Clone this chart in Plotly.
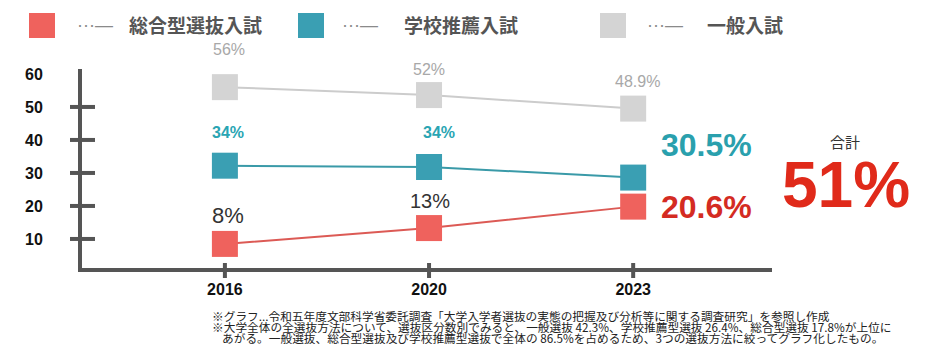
import plotly.graph_objects as go

# ---- data ----
years = ["2016", "2020", "2023"]
sogo = [8.5, 13.3, 19.8]        # 総合型選抜入試 (plotted position)
suisen = [32.2, 31.8, 28.6]     # 学校推薦入試
ippan = [56.0, 53.6, 49.5]      # 一般入試
sogo_labels = ["8%", "13%", "20.6%"]
suisen_labels = ["34%", "34%", "30.5%"]
ippan_labels = ["56%", "52%", "48.9%"]
series_names = ["総合型選抜入試", "学校推薦入試", "一般入試"]
y_ticks = [10, 20, 30, 40, 50, 60]
total_label = "51%"
total_title = "合計"
notes = [
    "※グラフ...令和五年度文部科学省委託調査「大学入学者選抜の実態の把握及び分析等に関する調査研究」を参照し作成",
    "※大学全体の全選抜方法について、選抜区分数別でみると、一般選抜 42.3%、学校推薦型選抜 26.4%、総合型選抜 17.8%が上位に",
    "あがる。一般選抜、総合型選抜及び学校推薦型選抜で全体の 86.5%を占めるため、3つの選抜方法に絞ってグラフ化したもの。",
]

# ---- styling ----
W, H = 934, 357
L, R, T, B = 82, 162, 69, 89
PW, PH = W - L - R, H - T - B
RED_M, TEAL_M, GRAY_M = "#ef625d", "#3a9fb3", "#d4d4d4"
RED_L, TEAL_L, GRAY_L = "#dc5a55", "#3a9aa8", "#cccccc"
AX = "#555555"
LAT = "Liberation Sans, Arial, Noto Sans CJK JP, sans-serif"
CJK = "Noto Sans CJK JP, sans-serif"


def px2paper_x(px):
    return (px - L) / PW


def px2paper_y(py):
    return (H - B - py) / PH


fig = go.Figure()
for vals, lc, mc, name in [
    (ippan, GRAY_L, GRAY_M, series_names[2]),
    (suisen, TEAL_L, TEAL_M, series_names[1]),
    (sogo, RED_L, RED_M, series_names[0]),
]:
    fig.add_trace(go.Scatter(
        x=years, y=vals, mode="lines+markers", name=name,
        line=dict(color=lc, width=2),
        marker=dict(symbol="square", size=26, color=mc, line=dict(width=0)),
        showlegend=False, hoverinfo="skip",
    ))

# category index positions (numeric-like category names need the index)
xi = list(range(len(years)))

ann = []
# gray labels
gray_shift = [(4, 38), (0, 26), (4, 27)]
for i, t in enumerate(ippan_labels):
    ann.append(dict(x=xi[i], y=ippan[i], text=t, showarrow=False,
                    xshift=gray_shift[i][0], yshift=gray_shift[i][1],
                    font=dict(family=LAT, size=16, color="#a8a8a8")))
# teal labels
teal_shift = [(3, 33), (10, 35)]
for i in range(2):
    ann.append(dict(x=xi[i], y=suisen[i], text=suisen_labels[i], showarrow=False,
                    xshift=teal_shift[i][0], yshift=teal_shift[i][1],
                    font=dict(family=LAT, size=16, color="#2aa5b3", weight="bold")))
ann.append(dict(x=xi[2], y=suisen[2], text=suisen_labels[2], showarrow=False,
                xshift=73, yshift=33,
                font=dict(family=LAT, size=32, color="#2aa0ad", weight="bold")))
# red labels
red_shift = [(3, 28, 22), (1, 27, 20)]
for i in range(2):
    ann.append(dict(x=xi[i], y=sogo[i], text=sogo_labels[i], showarrow=False,
                    xshift=red_shift[i][0], yshift=red_shift[i][1],
                    font=dict(family=LAT, size=red_shift[i][2], color="#333333")))
ann.append(dict(x=xi[2], y=sogo[2], text=sogo_labels[2], showarrow=False,
                xshift=73, yshift=0,
                font=dict(family=LAT, size=32, color="#d42b22", weight="bold")))


def paper_text(px, py, text, font, xanchor="center"):
    return dict(xref="paper", yref="paper", x=px2paper_x(px), y=px2paper_y(py),
                xanchor=xanchor, yanchor="middle", text=text, showarrow=False,
                font=font)


# total
ann.append(paper_text(845, 141, total_title, dict(family=CJK, size=15, color="#333333")))
ann.append(paper_text(846, 185, total_label,
                      dict(family=LAT, size=64, color="#e02a1a", weight="bold")))

# legend (manual)
legend_items = [
    (RED_M, 29, 75, 127, series_names[0]),
    (TEAL_M, 298, 340, 402, series_names[1]),
    (GRAY_M, 600, 645, 705, series_names[2]),
]
shapes = []
for col, sx, dx, nx, name in legend_items:
    shapes.append(dict(type="rect", xref="paper", yref="paper",
                       x0=px2paper_x(sx), x1=px2paper_x(sx + 26),
                       y0=px2paper_y(38), y1=px2paper_y(13),
                       fillcolor=col, line=dict(width=0), layer="above"))
    ann.append(paper_text(dx, 25, "···—", dict(family=LAT, size=18, color="#8a8a8a"),
                          xanchor="left"))
    ann.append(paper_text(nx, 25, name,
                          dict(family=CJK, size=19, color="#555555", weight="bold"),
                          xanchor="left"))

# footnotes
note_pos = [(210, 315), (210, 326), (220, 337)]
for (nx, ny), t in zip(note_pos, notes):
    ann.append(paper_text(nx, ny, t, dict(family=CJK, size=11.7, color="#222222"),
                          xanchor="left"))

# crossing tick marks
for v in y_ticks[:-1]:
    shapes.append(dict(type="line", xref="paper", yref="y",
                       x0=px2paper_x(70), x1=px2paper_x(95), y0=v, y1=v,
                       line=dict(color=AX, width=4), layer="above"))
for i in xi:
    shapes.append(dict(type="line", xref="x", yref="paper",
                       x0=i, x1=i, y0=px2paper_y(278), y1=px2paper_y(263),
                       line=dict(color=AX, width=4), layer="above"))

fig.update_layout(
    width=W, height=H,
    margin=dict(l=L, r=R, t=T, b=B),
    paper_bgcolor="white", plot_bgcolor="white",
    showlegend=False,
    annotations=ann, shapes=shapes,
    xaxis=dict(type="category", categoryorder="array", categoryarray=years,
               range=[-0.70, 2.68], showgrid=False, zeroline=False,
               showline=True, linecolor=AX, linewidth=4,
               ticks="outside", ticklen=4, tickcolor="rgba(0,0,0,0)",
               tickfont=dict(family=LAT, size=16, color="#111111", weight="bold")),
    yaxis=dict(range=[1.2, 61.5], showgrid=False, zeroline=False,
               showline=True, linecolor=AX, linewidth=4,
               tickvals=y_ticks, ticktext=[str(v) for v in y_ticks],
               ticks="outside", ticklen=32, tickcolor="rgba(0,0,0,0)",
               tickfont=dict(family=LAT, size=16, color="#111111", weight="bold")),
)

fig.write_html("out.html", config={"displayModeBar": False},
               post_script="document.body.style.margin='0';")
